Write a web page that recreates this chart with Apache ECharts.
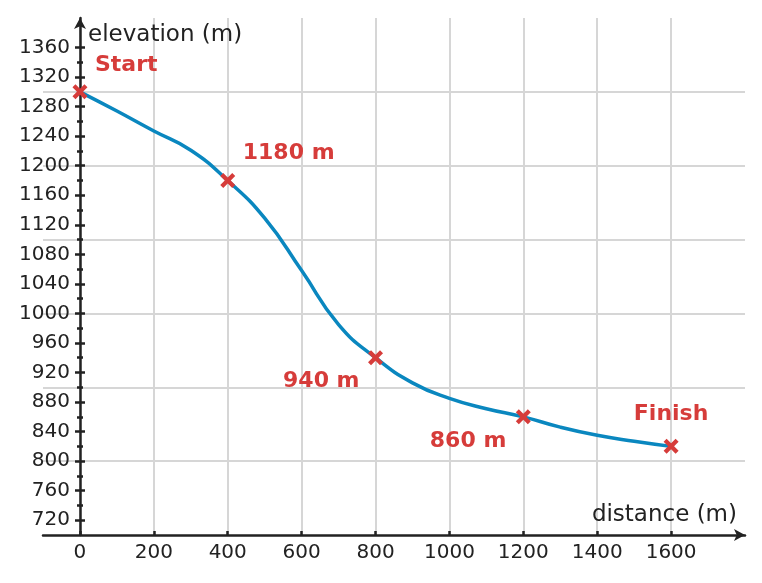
<!DOCTYPE html>
<html>
<head>
<meta charset="utf-8">
<title>elevation profile</title>
<script src="https://cdn.jsdelivr.net/npm/echarts@6/dist/echarts.min.js"></script>
<style>
  html, body { margin: 0; padding: 0; background: #fff; }
  #chart { width: 762px; height: 583px; }
</style>
</head>
<body>
<div id="chart"></div>
<script>
// profile
var distance = [0, 100, 200, 300, 400, 500, 600, 700, 800, 900, 1000, 1100, 1200, 1300, 1400, 1500, 1600];
var elevation = [1300, 1274, 1247, 1221, 1180, 1129, 1058, 985, 940, 906, 885, 871, 860, 846, 835, 827, 820];

// marked points
var markDistance = [0, 400, 800, 1200, 1600];
var markElevation = [1300, 1180, 940, 860, 820];
var markText = ['Start', '1180 m', '940 m', '860 m', 'Finish'];

// tick labels and grid lines
var xLabels = [0, 200, 400, 600, 800, 1000, 1200, 1400, 1600];
var yLabels = [720, 760, 800, 840, 880, 920, 960, 1000, 1040, 1080, 1120, 1160, 1200, 1240, 1280, 1320, 1360];
var yMinor = [740, 780, 820, 860, 900, 940, 980, 1020, 1060, 1100, 1140, 1180, 1220, 1260, 1300, 1340];
var yGrid = [800, 900, 1000, 1100, 1200, 1300];

var ink = '#222';
var red = '#d63c3a';
var gridGrey = '#d6d6d6';
var font = 'DejaVu Sans';

// where each annotation sits around its cross
var labelPlace = [
  { align: 'left', offset: [15, -27] },
  { align: 'left', offset: [15, -27] },
  { align: 'right', offset: [-16, 24] },
  { align: 'right', offset: [-17, 24] },
  { align: 'center', offset: [0, -32] }
];

var lineData = distance.map(function (d, i) { return [d, elevation[i]]; });
var markData = markDistance.map(function (d, i) {
  return {
    value: [d, markElevation[i]],
    label: {
      show: true,
      formatter: markText[i],
      position: 'inside',
      align: labelPlace[i].align,
      verticalAlign: 'middle',
      offset: labelPlace[i].offset
    }
  };
});

// the y axis sits on x = 0, which is 37px inside the grid's left edge
var yShift = -37;

function yAxisBase(extra) {
  var ax = {
    type: 'value',
    min: 700,
    max: 1400,
    interval: 100,
    position: 'left',
    offset: yShift,
    axisLine: { show: false, onZero: false },
    axisTick: { show: false },
    axisLabel: { show: false },
    splitLine: { show: false }
  };
  for (var k in extra) ax[k] = extra[k];
  return ax;
}

var tickStyle = { color: ink, width: 2.5 };
var plain = function (v) { return String(v); };

var chart = echarts.init(document.getElementById('chart'));
chart.setOption({
  animation: false,
  backgroundColor: '#fff',
  textStyle: { fontFamily: font },
  grid: { left: 43, right: 17, top: 18, bottom: 48, containLabel: false, outerBoundsMode: 'none' },
  xAxis: {
    type: 'value',
    min: -100,
    max: 1800,
    interval: 100,
    name: 'distance (m)',
    nameLocation: 'end',
    nameGap: -8,
    nameTextStyle: { color: ink, fontSize: 23, fontFamily: font, align: 'right', verticalAlign: 'bottom', padding: [0, 0, 8, 0] },
    axisLine: {
      onZero: false,
      symbol: ['none', 'arrow'],
      symbolSize: [9, 11],
      lineStyle: { color: ink, width: 2.5 }
    },
    axisTick: { show: true, inside: true, length: 4, customValues: xLabels, lineStyle: tickStyle },
    axisLabel: { customValues: xLabels, color: ink, fontSize: 20, fontFamily: font, margin: 8, formatter: plain },
    splitLine: {
      show: true,
      showMinLine: true,
      showMaxLine: true,
      lineStyle: { color: gridGrey, width: 2 }
    }
  },
  yAxis: [
    // grid lines only
    yAxisBase({
      offset: 0,
      axisTick: { show: false, customValues: yGrid },
      splitLine: { show: true, showMinLine: true, showMaxLine: true, lineStyle: { color: gridGrey, width: 2 } }
    }),
    // axis line, major ticks, labels, name
    yAxisBase({
      name: 'elevation (m)',
      nameLocation: 'end',
      nameGap: -17,
      nameTextStyle: { color: ink, fontSize: 23, fontFamily: font, align: 'left', verticalAlign: 'middle', padding: [0, 0, 0, 8] },
      axisLine: {
        show: true,
        onZero: false,
        symbol: ['none', 'arrow'],
        symbolSize: [9, 11],
        lineStyle: { color: ink, width: 2.5 }
      },
      axisTick: { show: true, length: 5, customValues: yLabels, lineStyle: tickStyle },
      axisLabel: { show: true, customValues: yLabels, color: ink, fontSize: 20, fontFamily: font, margin: 10, formatter: plain }
    }),
    yAxisBase({
      axisTick: { show: true, inside: true, length: 5, customValues: yLabels, lineStyle: tickStyle }
    }),
    yAxisBase({
      axisTick: { show: true, length: 3, customValues: yMinor, lineStyle: tickStyle }
    }),
    yAxisBase({
      axisTick: { show: true, inside: true, length: 3, customValues: yMinor, lineStyle: tickStyle }
    })
  ],
  series: [
    {
      type: 'line',
      data: lineData,
      smooth: 0.5,
      showSymbol: false,
      lineStyle: { color: '#0a87bf', width: 3.5 },
      z: 3
    },
    {
      type: 'scatter',
      data: markData,
      symbol: 'path://M2,0 L5,3 L8,0 L10,2 L7,5 L10,8 L8,10 L5,7 L2,10 L0,8 L3,5 L0,2 Z',
      symbolSize: 15,
      itemStyle: { color: red, opacity: 1 },
      label: { color: red, fontSize: 22, fontWeight: 'bold', fontFamily: font },
      z: 5
    }
  ]
});
</script>
</body>
</html>
